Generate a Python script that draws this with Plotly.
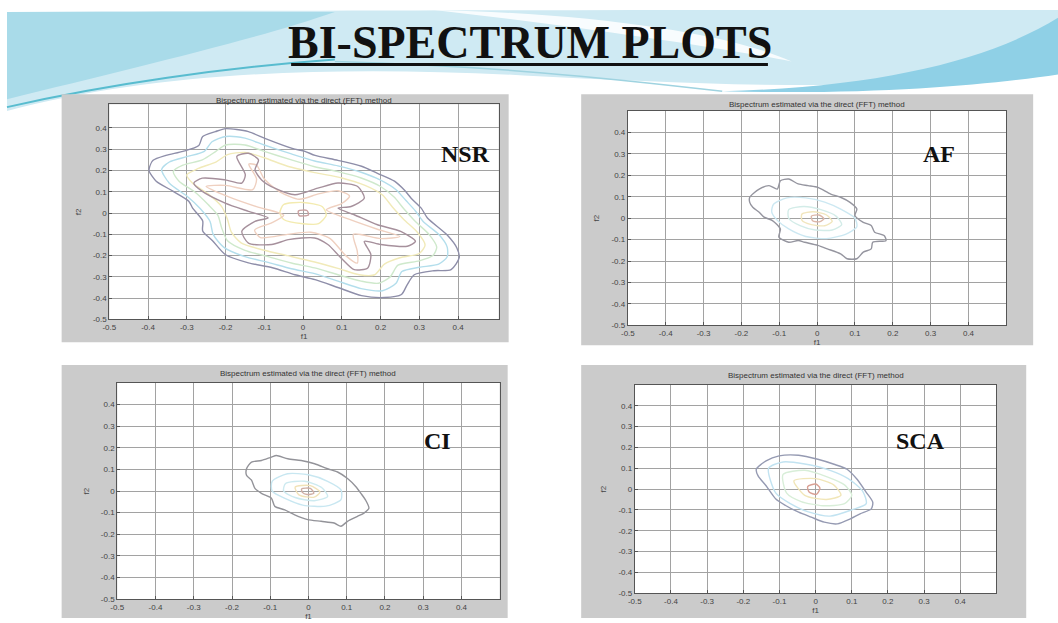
import plotly.graph_objects as go

W, H = 1058, 623

# ---------------- text / ticks ----------------
SLIDE_TITLE = "BI-SPECTRUM PLOTS"
PANEL_TITLE = "Bispectrum estimated via the direct (FFT) method"
PANEL_LABELS = ["NSR", "AF", "CI", "SCA"]
TICK_VALUES = [-0.5, -0.4, -0.3, -0.2, -0.1, 0, 0.1, 0.2, 0.3, 0.4]
TICK_TEXT = ["-0.5", "-0.4", "-0.3", "-0.2", "-0.1", "0", "0.1", "0.2", "0.3", "0.4"]
X_LABEL = "f1"
Y_LABEL = "f2"

# ---------------- contour lines (f1, f2) ----------------
NSR_L1 = [(-0.397, 0.210), (-0.387, 0.248), (-0.354, 0.271), (-0.310, 0.290), (-0.269, 0.318),
          (-0.259, 0.360), (-0.226, 0.383), (-0.200, 0.397), (-0.141, 0.383), (-0.097, 0.350),
          (-0.028, 0.304), (0.005, 0.290), (0.031, 0.271), (0.090, 0.248), (0.151, 0.220),
          (0.192, 0.187), (0.236, 0.150), (0.262, 0.107), (0.279, 0.070), (0.305, 0.023),
          (0.321, -0.023), (0.372, -0.103), (0.397, -0.164), (0.403, -0.210), (0.382, -0.266),
          (0.338, -0.271), (0.287, -0.290), (0.269, -0.336), (0.254, -0.383), (0.210, -0.397),
          (0.151, -0.388), (0.090, -0.350), (0.031, -0.313), (-0.021, -0.290), (-0.079, -0.257),
          (-0.141, -0.234), (-0.200, -0.196), (-0.233, -0.131), (-0.259, -0.084), (-0.259, -0.037),
          (-0.285, 0.023), (-0.295, 0.056), (-0.336, 0.103), (-0.379, 0.150), (-0.397, 0.196)]
NSR_L2 = [(-0.365, 0.205), (-0.345, 0.240), (-0.300, 0.265), (-0.255, 0.290), (-0.235, 0.335),
          (-0.200, 0.360), (-0.150, 0.352), (-0.100, 0.320), (-0.030, 0.278), (0.030, 0.245),
          (0.090, 0.222), (0.150, 0.192), (0.200, 0.155), (0.240, 0.110), (0.265, 0.060),
          (0.290, 0.010), (0.310, -0.040), (0.350, -0.100), (0.372, -0.160), (0.372, -0.205),
          (0.350, -0.240), (0.300, -0.255), (0.255, -0.275), (0.240, -0.330), (0.205, -0.365),
          (0.150, -0.355), (0.090, -0.320), (0.030, -0.285), (-0.030, -0.262), (-0.090, -0.232),
          (-0.150, -0.205), (-0.205, -0.160), (-0.232, -0.100), (-0.240, -0.040), (-0.265, 0.020),
          (-0.300, 0.080), (-0.345, 0.140)]
NSR_L3 = [(-0.335, 0.195), (-0.310, 0.225), (-0.260, 0.250), (-0.225, 0.290), (-0.200, 0.320),
          (-0.150, 0.320), (-0.100, 0.290), (-0.030, 0.250), (0.030, 0.218), (0.090, 0.195),
          (0.150, 0.165), (0.200, 0.125), (0.235, 0.075), (0.260, 0.020), (0.290, -0.040),
          (0.325, -0.100), (0.345, -0.160), (0.335, -0.200), (0.300, -0.225), (0.245, -0.245),
          (0.225, -0.300), (0.195, -0.330), (0.150, -0.320), (0.090, -0.290), (0.030, -0.258),
          (-0.030, -0.235), (-0.090, -0.205), (-0.150, -0.175), (-0.195, -0.130), (-0.210, -0.070),
          (-0.220, -0.010), (-0.245, 0.040), (-0.280, 0.100), (-0.320, 0.150)]
NSR_L4 = [(-0.300, 0.180), (-0.270, 0.210), (-0.225, 0.240), (-0.195, 0.275), (-0.150, 0.285),
          (-0.100, 0.260), (-0.040, 0.220), (0.030, 0.190), (0.100, 0.165), (0.160, 0.130),
          (0.205, 0.085), (0.230, 0.030), (0.260, -0.030), (0.295, -0.090), (0.315, -0.150),
          (0.300, -0.190), (0.250, -0.210), (0.210, -0.240), (0.185, -0.290), (0.145, -0.290),
          (0.090, -0.260), (0.030, -0.230), (-0.040, -0.200), (-0.100, -0.175), (-0.160, -0.140),
          (-0.185, -0.090), (-0.195, -0.030), (-0.210, 0.030), (-0.245, 0.090), (-0.285, 0.140)]
NSR_L5 = [(-0.171, 0.266), (-0.141, 0.281), (-0.115, 0.250), (-0.124, 0.203), (-0.107, 0.156),
          (-0.073, 0.117), (-0.021, 0.086), (0.038, 0.117), (0.090, 0.141), (0.141, 0.125),
          (0.158, 0.070), (0.124, 0.031), (0.090, 0.023), (0.132, -0.008), (0.192, -0.055),
          (0.252, -0.086), (0.290, -0.133), (0.269, -0.156), (0.201, -0.148), (0.158, -0.133),
          (0.175, -0.195), (0.167, -0.258), (0.132, -0.266), (0.098, -0.211), (0.064, -0.148),
          (0.030, -0.117), (-0.038, -0.125), (-0.081, -0.148), (-0.141, -0.141), (-0.158, -0.086),
          (-0.124, -0.039), (-0.090, -0.023), (-0.141, 0.008), (-0.201, 0.047), (-0.260, 0.102),
          (-0.282, 0.141), (-0.260, 0.164), (-0.201, 0.156), (-0.158, 0.141), (-0.149, 0.180)]
NSR_L6 = [(-0.140, 0.230), (-0.120, 0.225), (-0.100, 0.160), (-0.060, 0.100), (-0.010, 0.065),
          (0.040, 0.090), (0.090, 0.105), (0.120, 0.080), (0.100, 0.045), (0.060, 0.015),
          (0.120, -0.030), (0.190, -0.075), (0.250, -0.110), (0.200, -0.120), (0.130, -0.100),
          (0.140, -0.180), (0.140, -0.235), (0.110, -0.200), (0.070, -0.120), (0.020, -0.090),
          (-0.040, -0.100), (-0.110, -0.115), (-0.125, -0.080), (-0.080, -0.045), (-0.050, -0.010),
          (-0.120, 0.030), (-0.190, 0.075), (-0.250, 0.125), (-0.200, 0.130), (-0.130, 0.110),
          (-0.120, 0.160)]
NSR_L7 = [(-0.050, 0.040), (0.000, 0.050), (0.050, 0.030), (0.060, -0.010), (0.040, -0.050),
          (0.000, -0.050), (-0.050, -0.030), (-0.060, 0.000)]
NSR_L8 = [(-0.012, 0.010), (0.010, 0.012), (0.014, -0.008), (-0.010, -0.012)]

AF_L1 = [(-0.178, 0.098), (-0.153, 0.136), (-0.127, 0.152), (-0.105, 0.136), (-0.097, 0.175),
         (-0.075, 0.183), (-0.050, 0.160), (-0.024, 0.152), (0.002, 0.144), (0.036, 0.113),
         (0.062, 0.098), (0.087, 0.074), (0.105, 0.043), (0.100, 0.012), (0.122, -0.019),
         (0.143, -0.034), (0.152, -0.065), (0.177, -0.081), (0.182, -0.104), (0.147, -0.112),
         (0.143, -0.143), (0.122, -0.158), (0.105, -0.189), (0.079, -0.189), (0.062, -0.166),
         (0.027, -0.143), (0.002, -0.127), (-0.033, -0.112), (-0.050, -0.104), (-0.075, -0.112),
         (-0.101, -0.088), (-0.097, -0.050), (-0.118, -0.011), (-0.140, 0.005), (-0.153, 0.028),
         (-0.170, 0.051), (-0.178, 0.074)]
AF_L2 = [(-0.115, 0.065), (-0.080, 0.095), (-0.030, 0.095), (0.020, 0.075), (0.065, 0.040),
         (0.100, 0.000), (0.105, -0.040), (0.075, -0.075), (0.025, -0.095), (-0.030, -0.085),
         (-0.075, -0.050), (-0.105, -0.010), (-0.120, 0.030)]
AF_L3 = [(-0.075, 0.040), (-0.035, 0.055), (0.010, 0.040), (0.050, 0.010), (0.065, -0.030),
         (0.040, -0.055), (-0.005, -0.055), (-0.045, -0.035), (-0.075, 0.000)]
AF_L4 = [(-0.040, 0.020), (-0.010, 0.030), (0.025, 0.015), (0.040, -0.015), (0.020, -0.035),
         (-0.015, -0.030), (-0.040, -0.010)]
AF_L5 = [(-0.015, 0.010), (0.005, 0.015), (0.018, -0.002), (0.008, -0.016), (-0.012, -0.012)]

CI_L1 = [(-0.162, 0.103), (-0.149, 0.134), (-0.123, 0.141), (-0.097, 0.157), (-0.084, 0.164),
         (-0.054, 0.149), (-0.019, 0.141), (0.016, 0.126), (0.050, 0.103), (0.076, 0.088),
         (0.102, 0.058), (0.124, 0.020), (0.137, -0.011), (0.149, -0.041), (0.158, -0.079),
         (0.145, -0.102), (0.128, -0.117), (0.102, -0.140), (0.085, -0.163), (0.067, -0.148),
         (0.033, -0.140), (-0.002, -0.132), (-0.036, -0.110), (-0.062, -0.087), (-0.088, -0.071),
         (-0.097, -0.033), (-0.123, -0.011), (-0.140, 0.012), (-0.149, 0.050), (-0.162, 0.073)]
CI_L2 = [(-0.095, 0.045), (-0.055, 0.080), (0.000, 0.075), (0.050, 0.045), (0.085, 0.005),
         (0.085, -0.040), (0.045, -0.070), (-0.015, -0.065), (-0.060, -0.035), (-0.095, 0.000)]
CI_L3 = [(-0.060, 0.035), (-0.010, 0.045), (0.035, 0.015), (0.050, -0.025), (0.015, -0.045),
         (-0.035, -0.030), (-0.065, 0.000)]
CI_L4 = [(-0.035, 0.018), (0.005, 0.025), (0.030, -0.005), (0.015, -0.028), (-0.025, -0.018)]
CI_L5 = [(-0.018, 0.010), (0.005, 0.012), (0.014, -0.010), (-0.004, -0.016), (-0.016, -0.006)]

SCA_L1 = [(-0.164, 0.095), (-0.137, 0.135), (-0.101, 0.159), (-0.047, 0.162), (0.006, 0.143),
          (0.051, 0.119), (0.087, 0.095), (0.114, 0.048), (0.140, -0.016), (0.158, -0.063),
          (0.154, -0.095), (0.123, -0.119), (0.096, -0.143), (0.060, -0.167), (0.024, -0.159),
          (-0.012, -0.135), (-0.047, -0.111), (-0.083, -0.079), (-0.110, -0.048), (-0.137, 0.016),
          (-0.159, 0.063)]
SCA_L2 = [(-0.130, 0.100), (-0.090, 0.130), (-0.030, 0.120), (0.040, 0.090), (0.090, 0.050),
          (0.130, -0.010), (0.140, -0.070), (0.100, -0.100), (0.040, -0.130), (-0.020, -0.110),
          (-0.070, -0.070), (-0.110, -0.020)]
SCA_L3 = [(-0.090, 0.070), (-0.030, 0.090), (0.030, 0.060), (0.080, 0.020), (0.100, -0.030),
          (0.080, -0.070), (0.020, -0.080), (-0.040, -0.060), (-0.080, -0.020)]
SCA_L4 = [(-0.060, 0.040), (0.000, 0.050), (0.050, 0.020), (0.070, -0.030), (0.030, -0.050),
          (-0.030, -0.030)]
SCA_L5 = [(-0.022, 0.012), (0.000, 0.024), (0.012, 0.004), (0.002, -0.026), (-0.018, -0.014)]

NSR_LINES = [NSR_L1, NSR_L2, NSR_L3, NSR_L4, NSR_L7, NSR_L6, NSR_L5, NSR_L8]
NSR_COLORS = ["#8e8ea9", "#b3deec", "#cfe9cc", "#f1eab9", "#f3ebb0", "#efd0c0", "#a6909c", "#c9a0a0"]
AF_LINES = [AF_L1, AF_L2, AF_L3, AF_L4, AF_L5]
AF_COLORS = ["#95959f", "#cce8f2", "#d3ece8", "#f1e6bd", "#dcb7a8"]
CI_LINES = [CI_L1, CI_L2, CI_L3, CI_L4, CI_L5]
CI_COLORS = ["#939399", "#c8e7f1", "#cdeaf0", "#f1e2b8", "#cfaea4"]
SCA_LINES = [SCA_L1, SCA_L2, SCA_L3, SCA_L4, SCA_L5]
SCA_COLORS = ["#959ab2", "#c2e3f1", "#d8eed8", "#f1e6b8", "#d9a094"]

# ---------------- panel geometry (pixels) ----------------
# gray figure box, white axes box
PANEL_GRAY = [(55, 95, 505, 345), (578, 95, 1033, 348), (55, 368, 504, 623), (578, 368, 1026, 623)]
PANEL_AXES = [(103, 105, 495, 322), (625, 112, 1006, 328), (111, 386, 496, 604), (632, 388, 996, 598)]
PANEL_XRANGE_TOP = [0.505, 0.5, 0.5, 0.5]
PANEL_YRANGE_TOP = [0.512, 0.5, 0.5, 0.5]
PANEL_TITLE_Y = [101, 105, 377, 379]
LABEL_POS = [(462, 155), (938, 155), (433, 445), (920, 445)]


def px(x):
    return x / W


def py(y):
    return 1 - y / H


fig = go.Figure()

all_lines = [NSR_LINES, AF_LINES, CI_LINES, SCA_LINES]
all_colors = [NSR_COLORS, AF_COLORS, CI_COLORS, SCA_COLORS]

for i, (lines, colors) in enumerate(zip(all_lines, all_colors)):
    suffix = "" if i == 0 else str(i + 1)
    for pts, col in zip(lines, colors):
        xs = [p[0] for p in pts] + [pts[0][0]]
        ys = [p[1] for p in pts] + [pts[0][1]]
        fig.add_trace(go.Scatter(
            x=xs, y=ys, mode="lines",
            line=dict(color=col, width=1.4, shape="spline", smoothing=0.7),
            xaxis="x" + suffix, yaxis="y" + suffix,
            showlegend=False, hoverinfo="skip"))

shapes = []


def path_from(points):
    s = "M {:.5f},{:.5f} ".format(px(points[0][0]), py(points[0][1]))
    rest = points[1:]
    for k in range(0, len(rest), 3):
        a, b, c = rest[k], rest[k + 1], rest[k + 2]
        s += "C {:.5f},{:.5f} {:.5f},{:.5f} {:.5f},{:.5f} ".format(
            px(a[0]), py(a[1]), px(b[0]), py(b[1]), px(c[0]), py(c[1]))
    return s


# decorative slide background waves
shapes.append(dict(type="path", xref="paper", yref="paper", layer="below",
                   path=path_from([(0, 12), (400, 10), (700, 10), (1058, 10),
                                   (1058, 30), (1058, 50), (1058, 70),
                                   (900, 95), (700, 85), (520, 76),
                                   (330, 66), (150, 72), (0, 112)]) + "Z",
                   fillcolor="#cfeaf3", line=dict(width=0)))
shapes.append(dict(type="path", xref="paper", yref="paper", layer="below",
                   path=path_from([(0, 12), (80, 12), (200, 12), (330, 12),
                                   (250, 40), (120, 70), (0, 100)]) + "Z",
                   fillcolor="#a9dbe9", line=dict(width=0)))
shapes.append(dict(type="path", xref="paper", yref="paper", layer="below",
                   path=path_from([(430, 10), (600, 14), (730, 35), (790, 62),
                                   (700, 45), (560, 25), (430, 10)]) + "Z",
                   fillcolor="#ffffff", opacity=0.85, line=dict(width=0)))
shapes.append(dict(type="path", xref="paper", yref="paper", layer="below",
                   path=path_from([(720, 92), (880, 88), (990, 60), (1058, 18),
                                   (1058, 40), (1058, 60), (1058, 75),
                                   (990, 85), (880, 96), (720, 92)]) + "Z",
                   fillcolor="#8fd0e6", line=dict(width=0)))
shapes.append(dict(type="path", xref="paper", yref="paper", layer="below",
                   path=path_from([(0, 108), (100, 85), (220, 68), (330, 60)]),
                   line=dict(color="#58bccf", width=2)))
shapes.append(dict(type="path", xref="paper", yref="paper", layer="below",
                   path=path_from([(330, 62), (480, 66), (600, 78), (720, 92)]),
                   line=dict(color="#9fd3e0", width=1.5)))

# gray MATLAB figure boxes + white axes boxes
for (gx0, gy0, gx1, gy1), (ax0, ay0, ax1, ay1) in zip(PANEL_GRAY, PANEL_AXES):
    shapes.append(dict(type="rect", xref="paper", yref="paper", layer="below",
                       x0=px(gx0), x1=px(gx1), y0=py(gy1), y1=py(gy0),
                       fillcolor="#cbcbcb", line=dict(width=0)))
    shapes.append(dict(type="rect", xref="paper", yref="paper", layer="below",
                       x0=px(ax0), x1=px(ax1), y0=py(ay1), y1=py(ay0),
                       fillcolor="#ffffff", line=dict(width=0)))

# title underline
shapes.append(dict(type="line", xref="paper", yref="paper",
                   x0=px(286), x1=px(766), y0=py(65), y1=py(65),
                   line=dict(color="#111111", width=3)))

annotations = [dict(text="<b>" + SLIDE_TITLE + "</b>", x=px(526), y=py(43),
                    xref="paper", yref="paper", showarrow=False,
                    xanchor="center", yanchor="middle",
                    font=dict(family="Liberation Serif", size=46, color="#111111"))]

layout_axes = {}
for i in range(4):
    suffix = "" if i == 0 else str(i + 1)
    ax0, ay0, ax1, ay1 = PANEL_AXES[i]
    common = dict(
        tickmode="array", tickvals=TICK_VALUES, ticktext=TICK_TEXT,
        showgrid=True, gridcolor="#a2a2a2", gridwidth=1, zeroline=False,
        showline=True, linecolor="#555555", linewidth=1, mirror=True,
        ticks="inside", ticklen=3, tickcolor="#555555",
        tickfont=dict(family="Liberation Sans", size=8, color="#444444"),
        fixedrange=True)
    xa = dict(common)
    xa.update(domain=[px(ax0), px(ax1)], range=[-0.5, PANEL_XRANGE_TOP[i]],
              anchor="y" + suffix,
              title=dict(text=X_LABEL, standoff=2,
                         font=dict(family="Liberation Sans", size=8, color="#444444")))
    ya = dict(common)
    ya.update(domain=[py(ay1), py(ay0)], range=[-0.5, PANEL_YRANGE_TOP[i]],
              anchor="x" + suffix,
              title=dict(text=Y_LABEL, standoff=10,
                         font=dict(family="Liberation Sans", size=8, color="#444444")))
    layout_axes["xaxis" + suffix] = xa
    layout_axes["yaxis" + suffix] = ya

    annotations.append(dict(text=PANEL_TITLE, x=px((ax0 + ax1) / 2), y=py(PANEL_TITLE_Y[i]),
                            xref="paper", yref="paper", showarrow=False,
                            xanchor="center", yanchor="middle",
                            font=dict(family="Liberation Sans", size=8, color="#333333")))
    lx, ly = LABEL_POS[i]
    annotations.append(dict(text="<b>" + PANEL_LABELS[i] + "</b>", x=px(lx), y=py(ly),
                            xref="paper", yref="paper", showarrow=False,
                            xanchor="center", yanchor="middle",
                            font=dict(family="Liberation Serif", size=24, color="#111111")))

fig.update_layout(
    width=W, height=H, margin=dict(l=0, r=0, t=0, b=0),
    paper_bgcolor="#ffffff", plot_bgcolor="rgba(0,0,0,0)",
    shapes=shapes, annotations=annotations, showlegend=False,
    **layout_axes)

fig.write_html("out.html",
               config={"displayModeBar": False, "staticPlot": True},
               post_script="document.body.style.margin='0';document.body.style.overflow='hidden';")
